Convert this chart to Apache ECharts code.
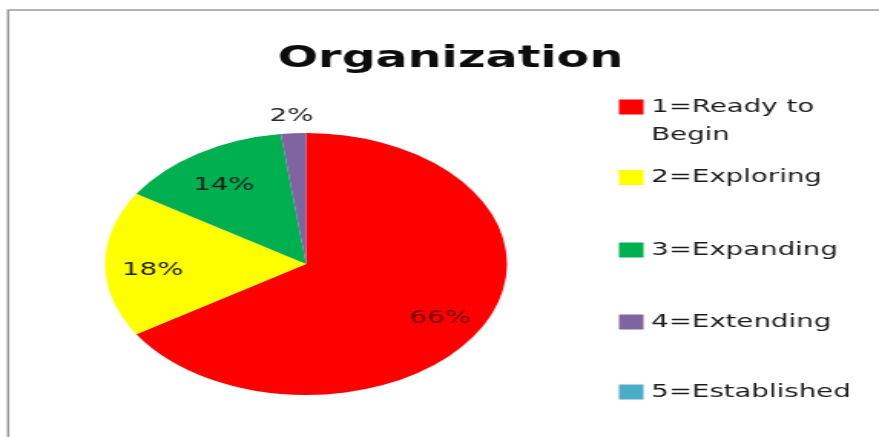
<!DOCTYPE html>
<html>
<head>
<meta charset="utf-8">
<title>Organization</title>
<script src="https://cdn.jsdelivr.net/npm/echarts@6/dist/echarts.min.js"></script>
<style>
  html, body { margin: 0; padding: 0; background: #fff; overflow: hidden; }
  #wrap { width: 879px; height: 437px; overflow: hidden; position: relative; }
  /* the chart is laid out narrower and stretched to the full width */
  #chart { width: 573px; height: 437px; transform-origin: 0 0; transform: scaleX(1.534); }
</style>
</head>
<body>
<div id="wrap"><div id="chart"></div></div>
<script>
// Survey stage shares (percent of respondents)
const categories = ['1=Ready to Begin', '2=Exploring', '3=Expanding', '4=Extending', '5=Established'];
const legendLabels = ['1=Ready to\nBegin', '2=Exploring', '3=Expanding', '4=Extending', '5=Established'];
const shares = [66, 18, 14, 2, 0];
const sliceColors = ['#ff0000', '#ffff00', '#00b050', '#8064a2', '#4bacc6'];
const chartTitle = 'Organization';

// layout (chart units, before horizontal stretch)
const FONT = 'DejaVu Sans';
const CENTER = [199.5, 264];
const R = 131;
const LEGEND_LEFT = 403.5;
const LEGEND_ROW_Y = [107, 177.5, 250, 322, 392];
const LEGEND_LINE = 28;
const SMALL_SHARE = 5;

const chart = echarts.init(document.getElementById('chart'), null, { renderer: 'canvas' });

const mainData = categories.map((name, i) => ({ name, value: shares[i], itemStyle: { color: sliceColors[i] } }));

function labelData(showIf, color) {
  return categories.map((name, i) => ({
    name,
    value: shares[i],
    label: {
      show: showIf(shares[i]),
      color: typeof color === 'function' ? color(i) : color
    }
  }));
}

const labelSeriesBase = {
  type: 'pie',
  center: CENTER,
  startAngle: 90,
  clockwise: true,
  silent: true,
  legendHoverLink: false,
  avoidLabelOverlap: false,
  percentPrecision: 0,
  itemStyle: { color: 'transparent', borderWidth: 0 },
  labelLine: { show: false },
  emphasis: { disabled: true },
  animation: false
};

// Multi-line entries keep their first line level with the swatch:
// blank lines are added above so the swatch centres on line one.
const legends = categories.map((name, i) => {
  const extraLines = legendLabels[i].split('\n').length - 1;
  const text = '\n'.repeat(extraLines) + legendLabels[i];
  const boxH = LEGEND_LINE * (1 + 2 * extraLines);
  return {
    orient: 'vertical',
    left: LEGEND_LEFT,
    top: LEGEND_ROW_Y[i] - boxH / 2,
    padding: 0,
    icon: 'rect',
    itemWidth: 16,
    itemHeight: 15,
    itemGap: 0,
    selectedMode: false,
    data: [{ name, itemStyle: { color: sliceColors[i] } }],
    formatter: () => text,
    textStyle: {
      fontFamily: FONT,
      fontSize: 18,
      color: '#1c1c1c',
      lineHeight: LEGEND_LINE
    }
  };
});

chart.setOption({
  backgroundColor: '#ffffff',
  animation: false,
  title: {
    text: chartTitle,
    left: 181,
    top: 43,
    padding: 0,
    textStyle: { fontFamily: FONT, fontWeight: 'bold', fontSize: 31, color: '#0d0d0d' }
  },
  legend: legends,
  graphic: [{
    type: 'rect',
    silent: true,
    shape: { x: 5.3, y: 10, width: 800, height: 600 },
    style: { fill: 'none', stroke: '#9c9c9c', lineWidth: 1.6 }
  }],
  series: [
    {
      type: 'pie',
      name: chartTitle,
      center: CENTER,
      radius: [0, R],
      startAngle: 90,
      clockwise: true,
      data: mainData,
      label: { show: false },
      labelLine: { show: false },
      itemStyle: { borderWidth: 0 },
      emphasis: { disabled: true },
      animation: false
    },
    Object.assign({}, labelSeriesBase, {
      radius: [R * 0.48, R],
      data: labelData(v => v >= SMALL_SHARE, i => (i === 0 ? '#6e0000' : '#1c1c1c')),
      label: { position: 'inside', formatter: '{d}%', fontFamily: FONT, fontSize: 18, offset: [0, 6] }
    }),
    Object.assign({}, labelSeriesBase, {
      radius: [R, R * 1.25],
      data: labelData(v => v > 0 && v < SMALL_SHARE, '#2a2a2a'),
      label: { position: 'inside', formatter: '{d}%', fontFamily: FONT, fontSize: 18, offset: [0, 2] }
    })
  ]
});
</script>
</body>
</html>
